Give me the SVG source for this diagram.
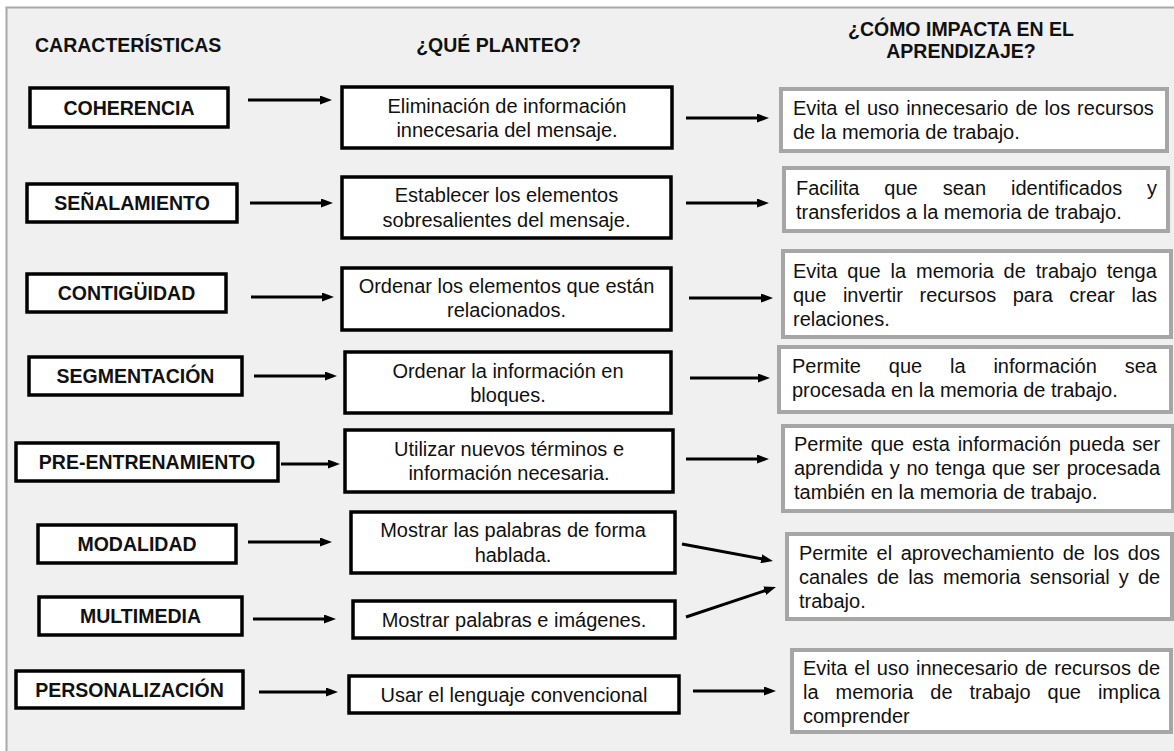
<svg xmlns="http://www.w3.org/2000/svg" width="1174" height="751" viewBox="0 0 1174 751">
<defs>
<marker id="ah" markerUnits="userSpaceOnUse" markerWidth="12" markerHeight="9" refX="4" refY="4.5" orient="auto"><path d="M0,0 L12,4.5 L0,9 z" fill="#000"/></marker>
<style>
.lbl{fill:#fff;stroke:#000;stroke-width:3.5}
.mid{fill:#fff;stroke:#000;stroke-width:3.5}
.res{fill:#fff;stroke:#a6a6a6;stroke-width:4}
.b{font-family:"Liberation Sans",Arial,sans-serif;font-weight:bold;font-size:19.5px;fill:#111}
.t{font-family:"Liberation Sans",Arial,sans-serif;font-size:20px;fill:#111}
.c{text-anchor:middle}
.arr line{stroke:#000;stroke-width:3;marker-end:url(#ah)}
</style>
</defs>
<rect x="0" y="0" width="1174" height="751" fill="#fff"/>
<rect x="6.5" y="7.5" width="1200" height="800" fill="#f0f0f0" stroke="#a8a8a8" stroke-width="2"/>
<g id="headers">
<text class="b" x="35" y="52">CARACTERÍSTICAS</text>
<text class="b c" x="498.5" y="52">¿QUÉ PLANTEO?</text>
<text class="b c" x="961" y="36">¿CÓMO IMPACTA EN EL</text>
<text class="b c" x="961" y="58">APRENDIZAJE?</text>
</g>
<g id="n-coherencia"><rect class="lbl" x="30" y="88" width="198" height="39"/><text class="b c" x="129" y="114.5">COHERENCIA</text></g>
<g id="n-senalamiento"><rect class="lbl" x="27" y="184" width="210" height="38"/><text class="b c" x="132" y="210">SEÑALAMIENTO</text></g>
<g id="n-contiguidad"><rect class="lbl" x="27" y="274" width="199" height="38"/><text class="b c" x="126.5" y="300">CONTIGÜIDAD</text></g>
<g id="n-segmentacion"><rect class="lbl" x="29" y="357" width="213" height="38"/><text class="b c" x="135.5" y="383">SEGMENTACIÓN</text></g>
<g id="n-preentrenamiento"><rect class="lbl" x="16" y="443" width="262" height="38"/><text class="b c" x="147" y="469">PRE-ENTRENAMIENTO</text></g>
<g id="n-modalidad"><rect class="lbl" x="38" y="525" width="198" height="38"/><text class="b c" x="137" y="551">MODALIDAD</text></g>
<g id="n-multimedia"><rect class="lbl" x="39" y="597" width="203" height="38"/><text class="b c" x="140.5" y="623">MULTIMEDIA</text></g>
<g id="n-personalizacion"><rect class="lbl" x="16" y="671" width="227" height="37"/><text class="b c" x="129.5" y="696.5">PERSONALIZACIÓN</text></g>

<g id="m-1"><rect class="mid" x="342" y="87" width="330" height="61"/><text class="t c" x="507" y="113">Eliminación de información</text><text class="t c" x="507" y="137">innecesaria del mensaje.</text></g>
<g id="m-2"><rect class="mid" x="342" y="177" width="329" height="61"/><text class="t c" x="506.5" y="202">Establecer los elementos</text><text class="t c" x="506.5" y="227">sobresalientes del mensaje.</text></g>
<g id="m-3"><rect class="mid" x="342" y="268" width="329" height="62"/><text class="t c" x="506.5" y="293">Ordenar los elementos que están</text><text class="t c" x="506.5" y="317">relacionados.</text></g>
<g id="m-4"><rect class="mid" x="345" y="352" width="326" height="61"/><text class="t c" x="508" y="378">Ordenar la información en</text><text class="t c" x="508" y="402">bloques.</text></g>
<g id="m-5"><rect class="mid" x="345" y="430" width="328" height="62"/><text class="t c" x="509" y="456">Utilizar nuevos términos e</text><text class="t c" x="509" y="480">información necesaria.</text></g>
<g id="m-6"><rect class="mid" x="351" y="512" width="324" height="61"/><text class="t c" x="513" y="537">Mostrar las palabras de forma</text><text class="t c" x="513" y="562">hablada.</text></g>
<g id="m-7"><rect class="mid" x="353" y="601" width="322" height="37"/><text class="t c" x="514" y="627">Mostrar palabras e imágenes.</text></g>
<g id="m-8"><rect class="mid" x="349" y="676" width="330" height="37"/><text class="t c" x="514" y="702">Usar el lenguaje convencional</text></g>

<g id="r-1"><rect class="res" x="781" y="89" width="386" height="62"/><text class="t" x="793" y="115" word-spacing="1.4">Evita el uso innecesario de los recursos</text><text class="t" x="793" y="139">de la memoria de trabajo.</text></g>
<g id="r-2"><rect class="res" x="784" y="168" width="384" height="63"/><text class="t" x="796" y="194.5" word-spacing="19.4">Facilita que sean identificados y</text><text class="t" x="796" y="218.5">transferidos a la memoria de trabajo.</text></g>
<g id="r-3"><rect class="res" x="783" y="251" width="388" height="86"/><text class="t" x="793" y="278" word-spacing="4.3">Evita que la memoria de trabajo tenga</text><text class="t" x="793" y="302" word-spacing="11">que invertir recursos para crear las</text><text class="t" x="793" y="326">relaciones.</text></g>
<g id="r-4"><rect class="res" x="779" y="347" width="392" height="65"/><text class="t" x="792" y="373" word-spacing="22.3">Permite que la información sea</text><text class="t" x="792" y="397">procesada en la memoria de trabajo.</text></g>
<g id="r-5"><rect class="res" x="783" y="426" width="390" height="85"/><text class="t" x="794" y="451" word-spacing="2.3">Permite que esta información pueda ser</text><text class="t" x="794" y="475" word-spacing="1.15">aprendida y no tenga que ser procesada</text><text class="t" x="794" y="499">también en la memoria de trabajo.</text></g>
<g id="r-6"><rect class="res" x="787" y="534" width="385" height="85"/><text class="t" x="799" y="560" word-spacing="3.06">Permite el aprovechamiento de los dos</text><text class="t" x="799" y="584" word-spacing="3.5">canales de las memoria sensorial y de</text><text class="t" x="799" y="608">trabajo.</text></g>
<g id="r-7"><rect class="res" x="792" y="650" width="379" height="82"/><text class="t" x="803" y="675" word-spacing="1.33">Evita el uso innecesario de recursos de</text><text class="t" x="803" y="699" word-spacing="11.4">la memoria de trabajo que implica</text><text class="t" x="803" y="723">comprender</text></g>

<g id="connectors" class="arr">
<line x1="248" y1="100" x2="324" y2="100"/>
<line x1="250" y1="203" x2="325" y2="203"/>
<line x1="251" y1="297" x2="326" y2="297"/>
<line x1="254" y1="376" x2="329" y2="376"/>
<line x1="281" y1="464" x2="332" y2="464"/>
<line x1="248" y1="542" x2="324" y2="542"/>
<line x1="253" y1="619" x2="328" y2="619"/>
<line x1="259" y1="692" x2="330" y2="692"/>
<line x1="686" y1="118" x2="761" y2="118"/>
<line x1="686" y1="203" x2="761" y2="203"/>
<line x1="689" y1="298" x2="765" y2="298"/>
<line x1="690" y1="378" x2="762" y2="378"/>
<line x1="686" y1="459" x2="761" y2="459"/>
<line x1="682" y1="544" x2="765.1" y2="559.5"/>
<line x1="686" y1="617" x2="768.4" y2="589.5"/>
<line x1="693" y1="691" x2="768" y2="691"/>
</g>
</svg>
